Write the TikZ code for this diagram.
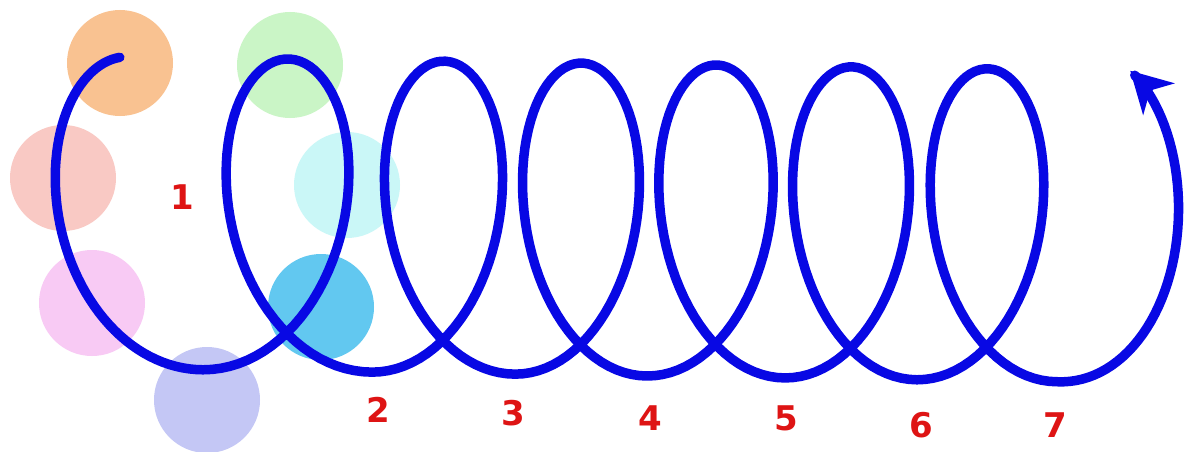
\documentclass[tikz,border=0pt]{standalone}
\usepackage{fontspec}
\setsansfont{DejaVu Sans}
\usepackage{tikz}
\usetikzlibrary{arrows.meta, bending}
\definecolor{coilblue}{RGB}{8,8,228}
\definecolor{numred}{RGB}{222,20,20}
\definecolor{dotorange}{RGB}{249,194,145}
\definecolor{dotgreen}{RGB}{202,245,198}
\definecolor{dotsalmon}{RGB}{249,201,196}
\definecolor{dotcyan}{RGB}{202,247,247}
\definecolor{dotpink}{RGB}{248,202,244}
\definecolor{dotsky}{RGB}{98,200,240}
\definecolor{dotlavender}{RGB}{196,199,245}

\begin{document}
\begin{tikzpicture}[x=1pt, y=-1pt,
  dot/.style={circle, minimum size=106pt, inner sep=0pt},
  coil/.style={draw=coilblue, line width=9.5pt, line cap=round, line join=round,
    -{Stealth[length=40pt, width=44pt, inset=12pt]}},
  num/.style={text=numred, font=\sffamily\bfseries\fontsize{34}{40}\selectfont}
]
\fill[white] (0,0) rectangle (1194,452);
\useasboundingbox (0,0) rectangle (1194,452);
% dots round the first turn
\node[dot, fill=dotorange] (orange) at (120,63) {};
\node[dot, fill=dotgreen] (green) at (290,65) {};
\node[dot, fill=dotsalmon] (salmon) at (63,178) {};
\node[dot, fill=dotcyan] (cyan) at (347,185) {};
\node[dot, fill=dotpink] (pink) at (92,303) {};
\node[dot, fill=dotsky] (sky) at (321,307) {};
\node[dot, fill=dotlavender] (lavender) at (207,400) {};
% the coil
\draw[coil]
  plot[variable=\t, domain=95:270, samples=60]
    ({203+(\t-270)/360*152+107*cos(\t)}, {215+0.014*(203+(\t-270)/360*152-290)-156*sin(\t)})
  \foreach \bs/\be/\rx in {203/372/100, 372/515/92, 515/647/89, 647/785/89, 785/917/89, 917/1057/89} {
    -- plot[variable=\t, domain=-90:270, samples=90]
      ({\bs+(\t+90)/360*(\be-\bs)+\rx*cos(\t)}, {215+0.014*(\bs+(\t+90)/360*(\be-\bs)-290)-156*sin(\t)})
  }
  -- plot[variable=\t, domain=-90:65, samples=50]
    ({1057+(\t+90)/360*68+104*cos(\t)}, {225.74-(156+15*(\t+90)/155)*sin(\t)});
% turn numbers
\node[num] (n1) at (182,197) {1};
\node[num] (n2) at (378,410) {2};
\node[num] (n3) at (513,413) {3};
\node[num] (n4) at (650,418) {4};
\node[num] (n5) at (786,418) {5};
\node[num] (n6) at (921,425) {6};
\node[num] (n7) at (1055,425) {7};
\end{tikzpicture}
\end{document}
